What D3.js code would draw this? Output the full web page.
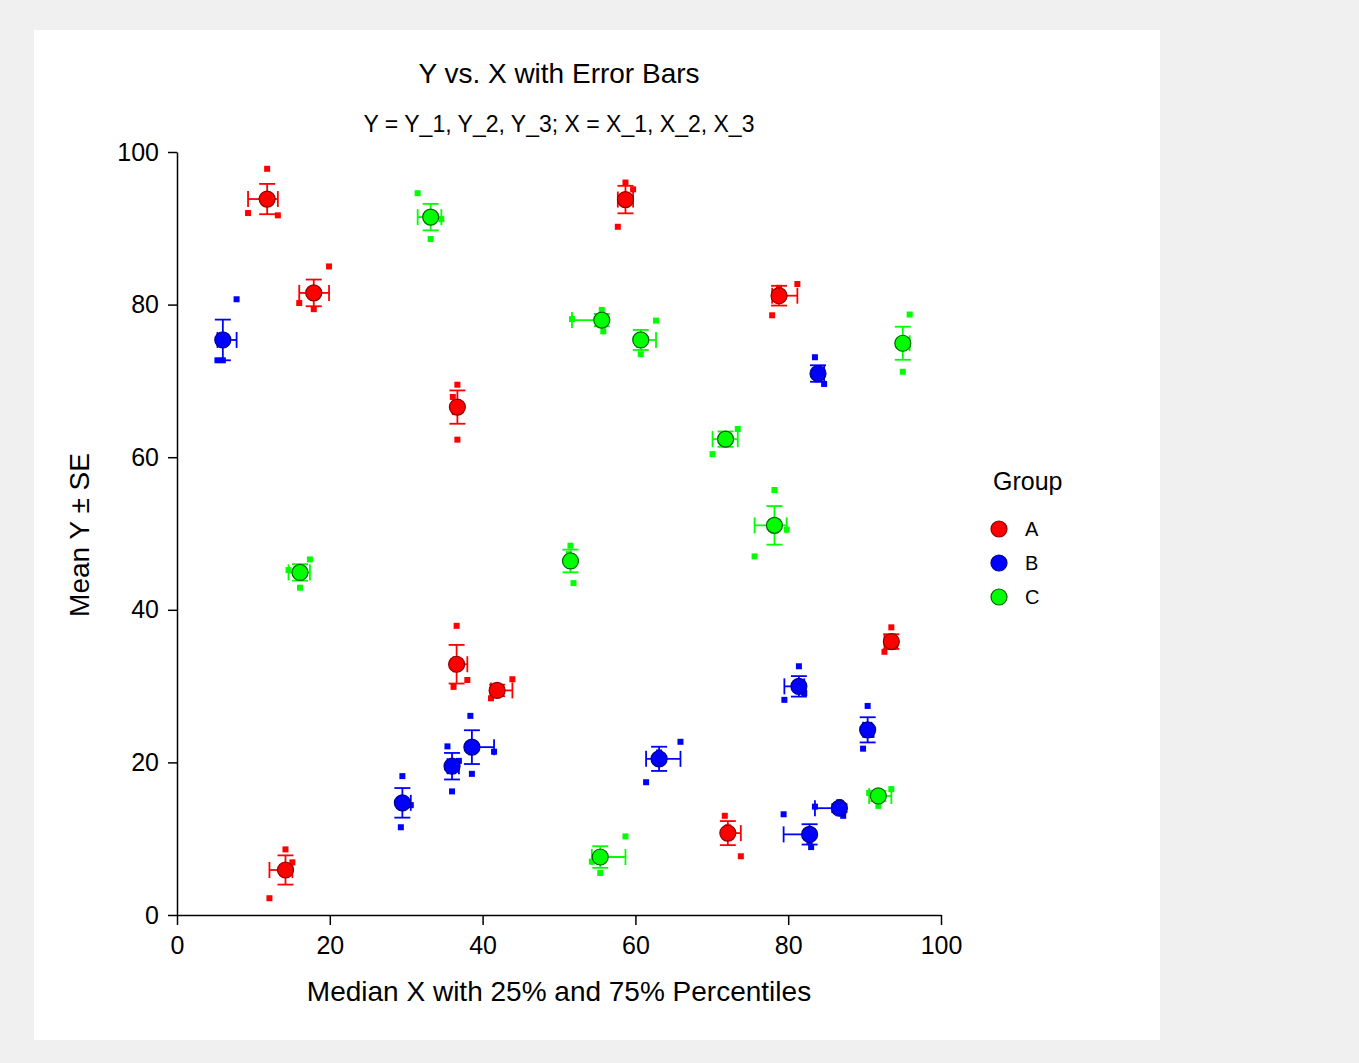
<!DOCTYPE html>
<html>
<head>
<meta charset="utf-8">
<script src="https://cdn.jsdelivr.net/npm/d3@7"></script>
<style>
    body { margin: 0; background: #f0f0f0; }
    svg { display: block; }
    text { font-family: "Liberation Sans", Arial, sans-serif; fill: #000; }
</style>
</head>
<body>
<div id="chart"></div>
<script>
// Group labels and colours
const groups = ["A", "B", "C"];
const groupFill = ["#ff0000", "#0000ff", "#00ff00"];
const groupStroke = ["#8b0000", "#00008b", "#006400"];

// Raw X values (3 per point) for each group
const xA = [[11.8, 9.3, 13.2], [19.9, 16.0, 17.9], [58.7, 59.7, 57.7], [81.2, 77.9, 78.8], [36.7, 36.1, 36.7],
            [36.6, 38.0, 36.2], [43.9, 41.1, 41.9], [14.2, 15.1, 12.1], [71.7, 73.8, 72.1], [93.5, 92.6, 94.0]];
const yA = [[97.8, 92.0, 91.7], [85.0, 80.2, 79.4], [96.0, 95.1, 90.2], [82.7, 78.6, 82.2], [69.5, 67.9, 62.3],
            [37.9, 30.8, 29.9], [30.9, 28.4, 29.0], [8.6, 6.9, 2.2], [13.0, 7.7, 11.5], [37.7, 34.5, 35.3]];

const xB = [[7.8, 5.3, 6.0], [83.5, 84.7, 83.9], [81.4, 79.5, 82.1], [90.4, 89.8, 90.9], [65.9, 61.4, 63.1],
            [38.4, 41.5, 38.6], [35.4, 36.9, 36.0], [29.5, 30.6, 29.3], [79.4, 83.0, 82.8], [83.5, 87.2, 86.7]];
const yB = [[80.7, 72.7, 72.7], [73.1, 69.6, 70.2], [32.6, 28.2, 29.1], [27.4, 21.8, 23.6], [22.7, 17.4, 21.3],
            [26.1, 21.4, 18.5], [22.1, 20.2, 16.2], [18.2, 14.4, 11.5], [13.2, 8.9, 9.6], [14.2, 13.0, 14.8]];

const xC = [[31.5, 34.6, 33.2], [51.7, 55.6, 55.8], [62.7, 60.7, 60.5], [95.9, 95.0, 94.9], [73.4, 70.1, 71.8],
            [78.2, 79.8, 75.6], [51.5, 51.9, 51.3], [17.4, 16.1, 14.6], [58.7, 55.4, 54.3], [93.5, 90.6, 91.8]];
const yC = [[94.6, 91.2, 88.6], [78.1, 79.3, 76.5], [77.9, 73.5, 74.7], [78.7, 71.2, 74.9], [63.7, 60.4, 63.0],
            [55.7, 50.5, 47.0], [48.4, 43.5, 47.3], [46.6, 42.9, 45.2], [10.3, 5.5, 7.0], [16.5, 16.0, 14.3]];

const axisTicks = [0, 20, 40, 60, 80, 100];

// Percentile using the (n+1)p position rule
function percentile(values, p) {
    const s = values.slice().sort((a, b) => a - b);
    const n = s.length;
    let pos = (n + 1) * p;
    if (pos <= 1) return s[0];
    if (pos >= n) return s[n - 1];
    const i = Math.floor(pos), f = pos - i;
    return s[i - 1] + f * (s[i] - s[i - 1]);
}

function buildPoints(xs, ys, g) {
    return xs.map((xv, i) => {
        const yv = ys[i];
        return {
            group: g,
            xs: xv,
            ys: yv,
            xMed: d3.median(xv),
            xLo: percentile(xv, 0.25),
            xHi: percentile(xv, 0.75),
            yMean: d3.mean(yv),
            ySE: d3.deviation(yv) / Math.sqrt(yv.length)
        };
    });
}

const points = [
    ...buildPoints(xA, yA, 0),
    ...buildPoints(xB, yB, 1),
    ...buildPoints(xC, yC, 2)
];

const width = 1359, height = 1063;
const svg = d3.select("#chart").append("svg")
    .attr("width", width)
    .attr("height", height);

svg.append("rect")
    .attr("x", 34).attr("y", 30)
    .attr("width", 1126).attr("height", 1010)
    .attr("fill", "#ffffff");

const x = d3.scaleLinear().domain([0, 100]).range([177, 941]);
const y = d3.scaleLinear().domain([0, 100]).range([915, 152]);

// Axes
const xAxis = svg.append("g")
    .attr("transform", "translate(0,915)")
    .call(d3.axisBottom(x).tickValues(axisTicks).tickSize(10).tickSizeOuter(0).tickPadding(10));
const yAxis = svg.append("g")
    .attr("transform", "translate(177,0)")
    .call(d3.axisLeft(y).tickValues(axisTicks).tickSize(9).tickSizeOuter(0).tickPadding(9));

[xAxis, yAxis].forEach(a => {
    a.selectAll("path, line").attr("stroke", "#000").attr("stroke-width", 1.5);
    a.selectAll("text").style("font-size", "25px").attr("fill", "#000");
});
xAxis.selectAll("text").attr("dy", "0.75em");

// Titles
svg.append("text")
    .attr("x", 559).attr("y", 83)
    .attr("text-anchor", "middle")
    .style("font-size", "28px")
    .text("Y vs. X with Error Bars");

svg.append("text")
    .attr("x", 559).attr("y", 132)
    .attr("text-anchor", "middle")
    .style("font-size", "23px")
    .text("Y = Y_1, Y_2, Y_3; X = X_1, X_2, X_3");

svg.append("text")
    .attr("x", 559).attr("y", 1001)
    .attr("text-anchor", "middle")
    .style("font-size", "28px")
    .text("Median X with 25% and 75% Percentiles");

svg.append("text")
    .attr("transform", "translate(89,535) rotate(-90)")
    .attr("text-anchor", "middle")
    .style("font-size", "28px")
    .text("Mean Y ± SE");

// Raw data squares
const sq = 6;
const plot = svg.append("g");
points.forEach(p => {
    p.xs.forEach((xv, i) => {
        plot.append("rect")
            .attr("x", x(xv) - sq / 2)
            .attr("y", y(p.ys[i]) - sq / 2)
            .attr("width", sq).attr("height", sq)
            .attr("fill", groupFill[p.group]);
    });
});

// Error bars
const cap = 8;
points.forEach(p => {
    const c = groupFill[p.group];
    const g = plot.append("g").attr("stroke", c).attr("stroke-width", 1.8).attr("fill", "none");
    const cx = x(p.xMed), cy = y(p.yMean);
    const yTop = y(p.yMean + p.ySE), yBot = y(p.yMean - p.ySE);
    g.append("line").attr("x1", cx).attr("x2", cx).attr("y1", yTop).attr("y2", yBot);
    g.append("line").attr("x1", cx - cap).attr("x2", cx + cap).attr("y1", yTop).attr("y2", yTop);
    g.append("line").attr("x1", cx - cap).attr("x2", cx + cap).attr("y1", yBot).attr("y2", yBot);
    const xl = x(p.xLo), xr = x(p.xHi);
    g.append("line").attr("x1", xl).attr("x2", xr).attr("y1", cy).attr("y2", cy);
    g.append("line").attr("x1", xl).attr("x2", xl).attr("y1", cy - cap).attr("y2", cy + cap);
    g.append("line").attr("x1", xr).attr("x2", xr).attr("y1", cy - cap).attr("y2", cy + cap);
});

// Mean / median circles
plot.selectAll("circle.pt")
    .data(points)
    .enter()
    .append("circle")
    .attr("class", "pt")
    .attr("cx", d => x(d.xMed))
    .attr("cy", d => y(d.yMean))
    .attr("r", 8)
    .attr("fill", d => groupFill[d.group])
    .attr("stroke", d => groupStroke[d.group])
    .attr("stroke-width", 1.2);

// Legend
const legend = svg.append("g").attr("transform", "translate(993,0)");
legend.append("text")
    .attr("x", 0).attr("y", 490)
    .style("font-size", "25px")
    .text("Group");
groups.forEach((gName, i) => {
    const ly = 529 + i * 34;
    legend.append("circle")
        .attr("cx", 6).attr("cy", ly).attr("r", 8)
        .attr("fill", groupFill[i])
        .attr("stroke", groupStroke[i])
        .attr("stroke-width", 1.2);
    legend.append("text")
        .attr("x", 32).attr("y", ly)
        .attr("dy", "0.35em")
        .style("font-size", "20px")
        .text(gName);
});
</script>
</body>
</html>
